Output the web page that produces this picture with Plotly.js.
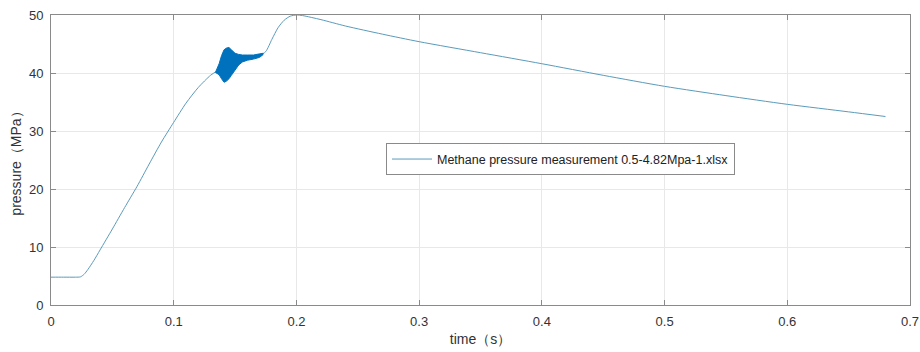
<!DOCTYPE html>
<html>
<head>
<meta charset="utf-8">
<script src="https://cdn.plot.ly/plotly-3.0.1.min.js"></script>
<style>html,body{margin:0;padding:0;background:#fff;}#chart{width:920px;height:352px;}</style>
</head>
<body>
<div id="chart"></div>
<script>
// Main measured curve (time in s, pressure in MPa)
const time = [0, 0.01, 0.02, 0.024, 0.027, 0.03, 0.035, 0.04, 0.05, 0.06, 0.07, 0.08, 0.09, 0.1, 0.11, 0.12, 0.13, 0.135, 0.14, 0.15, 0.16, 0.17, 0.175, 0.18, 0.185, 0.19, 0.195, 0.2, 0.205, 0.22, 0.24, 0.27, 0.3, 0.35, 0.4, 0.45, 0.5, 0.55, 0.6, 0.65, 0.68];
const pressure = [4.8, 4.8, 4.8, 4.85, 5.3, 6.1, 7.7, 9.5, 13.1, 16.8, 20.4, 24.3, 28.1, 31.5, 34.8, 37.5, 39.6, 40.3, 40.9, 41.9, 42.5, 43.0, 43.7, 45.8, 47.8, 49.1, 49.8, 50.0, 49.9, 49.2, 48.1, 46.7, 45.4, 43.5, 41.6, 39.6, 37.7, 36.1, 34.6, 33.3, 32.5];
// Envelope of the fast oscillation burst
const oscTime = [0.134, 0.137, 0.139, 0.141, 0.143, 0.145, 0.147, 0.15, 0.153, 0.156, 0.16, 0.165, 0.17, 0.173];
const oscUpper = [40.1, 41.6, 43.0, 44.0, 44.3, 44.4, 44.0, 43.4, 43.2, 43.1, 43.1, 43.1, 43.3, 43.4];
const oscLower = [40.1, 39.7, 39.0, 38.4, 38.6, 39.0, 39.6, 40.6, 41.4, 41.9, 42.2, 42.4, 42.7, 43.2];
const xTicks = [0, 0.1, 0.2, 0.3, 0.4, 0.5, 0.6, 0.7];
const yTicks = [0, 10, 20, 30, 40, 50];
const seriesName = 'Methane pressure measurement 0.5-4.82Mpa-1.xlsx';

const font = 'Liberation Sans, Arial, sans-serif';
const traces = [
  {x: time, y: pressure, type: 'scatter', mode: 'lines', name: seriesName,
   line: {color: '#5a9bbb', width: 1, shape: 'spline', smoothing: 0.7}},
  {x: oscTime, y: oscLower, type: 'scatter', mode: 'lines', showlegend: false,
   line: {color: '#0072BD', width: 1}, hoverinfo: 'skip'},
  {x: oscTime, y: oscUpper, type: 'scatter', mode: 'lines', showlegend: false, fill: 'tonexty',
   fillcolor: '#0072BD', line: {color: '#0072BD', width: 1}, hoverinfo: 'skip'}
];
const axisCommon = {
  showline: true, linecolor: '#8a8a8a', linewidth: 1, mirror: 'ticks',
  ticks: 'inside', ticklen: 5, tickcolor: '#8a8a8a',
  showgrid: true, gridcolor: '#e8e8e8', gridwidth: 1, zeroline: false,
  ticklabelstandoff: 4,
  tickfont: {family: font, size: 13, color: '#333'}
};
const layout = {
  width: 920, height: 352,
  margin: {l: 51, r: 10, t: 15, b: 47},
  paper_bgcolor: '#fff', plot_bgcolor: '#fff',
  xaxis: Object.assign({}, axisCommon, {range: [0, 0.7], tickvals: xTicks, ticktext: xTicks.map(String),
    title: {text: 'time（s）', font: {family: font, size: 14, color: '#333'}, standoff: 6}}),
  yaxis: Object.assign({}, axisCommon, {range: [0, 50], tickvals: yTicks, ticktext: yTicks.map(String),
    title: {text: 'pressure（MPa）', font: {family: font, size: 14, color: '#333'}, standoff: 4}}),
  showlegend: true,
  legend: {x: 0.39, y: 0.502, xanchor: 'left', yanchor: 'middle', bgcolor: '#fff',
    bordercolor: '#8a8a8a', borderwidth: 1, font: {family: font, size: 12.5, color: '#222'},
    itemwidth: 40, tracegroupgap: 0}
};
Plotly.newPlot('chart', traces, layout, {staticPlot: true});
</script>
</body>
</html>
